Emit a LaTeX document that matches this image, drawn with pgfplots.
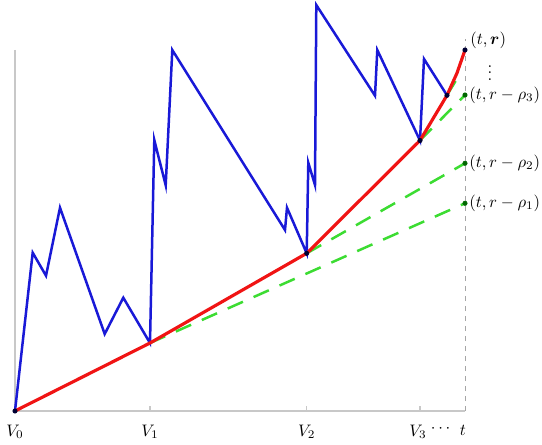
\documentclass[border=0pt]{standalone}
\usepackage{pgfplots}
\pgfplotsset{compat=1.18}
\usepackage{amsmath,amssymb}
\definecolor{pathblue}{RGB}{25,25,215}
\definecolor{envred}{RGB}{240,20,20}
\definecolor{tanggreen}{RGB}{60,220,50}
\definecolor{axgray}{RGB}{200,200,200}
\begin{document}
\begin{tikzpicture}
\begin{axis}[
  scale only axis,
  width=325.2pt, height=266.4pt,
  xmin=0, xmax=542, ymin=-33, ymax=411,
  hide axis, clip=false,
]
% axes
\addplot[axgray, line width=0.9pt] coordinates {(15,361) (15,0) (465,0)};
\addplot[axgray, line width=0.9pt] coordinates {(150,0) (150,5)};
\addplot[axgray, line width=0.9pt] coordinates {(306.7,0) (306.7,5)};
\addplot[axgray, line width=0.9pt] coordinates {(420,0) (420,5)};
\addplot[gray!70, dashed, line width=0.5pt] coordinates {(465,0) (465,372)};
% green tangents
\addplot[tanggreen, line width=1.5pt, dash pattern=on 10pt off 7pt] coordinates {(150,68) (465,207.7)};
\addplot[tanggreen, line width=1.5pt, dash pattern=on 10pt off 7pt] coordinates {(306.7,157.7) (465,247.7)};
\addplot[tanggreen, line width=1.5pt, dash pattern=on 10pt off 7pt] coordinates {(420,270.5) (465,316)};
\addplot[tanggreen, line width=1.5pt, dash pattern=on 10pt off 7pt] coordinates {(447,315.7) (458,334)};
% blue path
\addplot[pathblue, line width=1.5pt] coordinates {
  (15,0) (32.7,158.3) (46,135.3) (60,203.3) (104.7,77) (123.3,113.3)
  (150,68) (154.3,271) (165.7,225.7) (172.3,361) (285,181) (287,203.3)
  (306.7,157.7) (308.3,248.3) (315,226) (316.3,406) (375,315.3) (377.3,361)
  (420,270.5) (424,352) (447,315.7)};
% red envelope
\addplot[envred, line width=1.9pt] coordinates {
  (15,0) (150,68) (306.7,157.7) (420,270.5) (447,315.7) (457,338) (465,361)};
% dots
\addplot[only marks, mark=*, mark size=1.3pt, color=black!80!blue] coordinates {
  (15,0) (306.7,157.7) (420,270.5) (447,315.7) (465,361)};
\addplot[only marks, mark=*, mark size=1.3pt, color=black!60!green] coordinates {
  (465,316) (465,247.7) (465,207.7)};
% labels
\node at (axis cs:15,-21) {$V_0$};
\node at (axis cs:150,-21) {$V_1$};
\node at (axis cs:306.7,-21) {$V_2$};
\node at (axis cs:418,-21) {$V_3$};
\node at (axis cs:442,-18) {$\cdots$};
\node at (axis cs:463,-19) {$t$};
\node[anchor=west, inner sep=0pt] at (axis cs:470,371) {$(t,\boldsymbol{r})$};
\node[inner sep=0pt] at (axis cs:490,343) {$\vdots$};
\node[anchor=west, inner sep=0pt] at (axis cs:469,316) {$(t,r-\rho_3)$};
\node[anchor=west, inner sep=0pt] at (axis cs:469,247.7) {$(t,r-\rho_2)$};
\node[anchor=west, inner sep=0pt] at (axis cs:469,207.7) {$(t,r-\rho_1)$};
\end{axis}
\pgfresetboundingbox
\path[use as bounding box] (current axis.south west) rectangle (current axis.north east);
\end{tikzpicture}
\end{document}
